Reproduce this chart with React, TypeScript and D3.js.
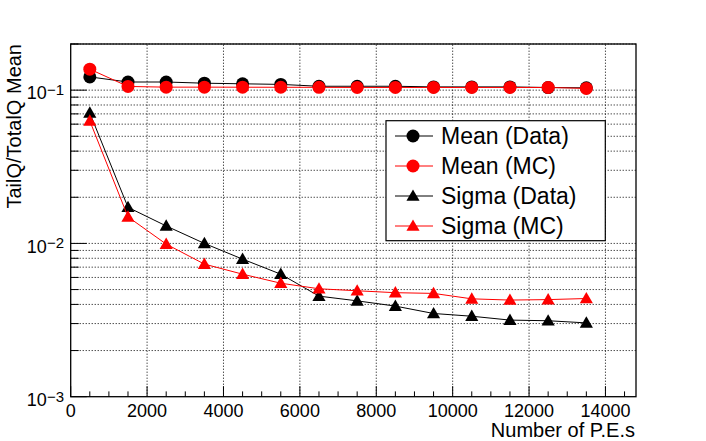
import React, { useEffect, useRef } from 'react';
import * as d3 from 'd3';

// values
const peBins: number[] = [500, 1500, 2500, 3500, 4500, 5500, 6500, 7500, 8500, 9500, 10500, 11500, 12500, 13500];
const meanData: number[] = [0.122, 0.113, 0.113, 0.111, 0.110, 0.109, 0.106, 0.106, 0.106, 0.105, 0.105, 0.105, 0.104, 0.1035];
const meanMC: number[] = [0.137, 0.1057, 0.1046, 0.1046, 0.1045, 0.1044, 0.1043, 0.1041, 0.1041, 0.1041, 0.1041, 0.1041, 0.1041, 0.1026];
const sigmaData: number[] = [0.071, 0.0172, 0.013, 0.01, 0.0079, 0.0063, 0.00453, 0.00422, 0.0039, 0.00349, 0.00335, 0.00316, 0.00313, 0.00303];
const sigmaMC: number[] = [0.063, 0.0149, 0.0099, 0.00733, 0.0063, 0.0055, 0.00506, 0.00491, 0.00477, 0.00472, 0.00435, 0.00427, 0.0043, 0.00437];

const xMajorTicks: number[] = [0, 2000, 4000, 6000, 8000, 10000, 12000, 14000];
const yDecades: number[] = [-3, -2, -1];

const seriesList = [
  { name: 'Mean (Data)', values: meanData, color: '#000000', shape: 'circle' },
  { name: 'Mean (MC)', values: meanMC, color: '#ff0000', shape: 'circle' },
  { name: 'Sigma (Data)', values: sigmaData, color: '#000000', shape: 'triangle' },
  { name: 'Sigma (MC)', values: sigmaMC, color: '#ff0000', shape: 'triangle' },
];

const FONT = "'Liberation Sans', Arial, Helvetica, sans-serif";

const App: React.FC = () => {
  const svgRef = useRef<SVGSVGElement | null>(null);

  useEffect(() => {
    const width = 706;
    const height = 441;
    const margin = { top: 44, right: 70, bottom: 44.3, left: 70.7 };

    const svg = d3.select(svgRef.current)
      .attr('width', width)
      .attr('height', height);
    svg.selectAll('*').remove();

    const xScale = d3.scaleLinear()
      .domain([0, 14800])
      .range([margin.left, width - margin.right]);

    const yScale = d3.scaleLog()
      .domain([1e-3, 0.2])
      .range([height - margin.bottom, margin.top]);

    const x0 = margin.left;
    const x1 = width - margin.right;
    const y0 = height - margin.bottom;
    const y1 = margin.top;

    svg.append('rect')
      .attr('width', width).attr('height', height).attr('fill', '#fff');

    // log ticks: 1..9 per decade
    const yTicks: { v: number; major: boolean }[] = [];
    yDecades.forEach(d => {
      for (let k = 1; k <= 9; k++) {
        const v = k * Math.pow(10, d);
        if (v <= 0.2) yTicks.push({ v, major: k === 1 });
      }
    });

    const xMinor: number[] = d3.range(0, 14800, 500);

    // grid
    const grid = svg.append('g')
      .attr('stroke', '#000')
      .attr('stroke-width', 1)
      .attr('stroke-dasharray', '1,2');
    yTicks.filter(t => t.v > 1e-3).forEach(t => {
      grid.append('line')
        .attr('x1', x0).attr('x2', x1)
        .attr('y1', yScale(t.v)).attr('y2', yScale(t.v));
    });
    xMajorTicks.filter(v => v > 0).forEach(v => {
      grid.append('line')
        .attr('x1', xScale(v)).attr('x2', xScale(v))
        .attr('y1', y0).attr('y2', y1);
    });

    // ticks
    const ticks = svg.append('g').attr('stroke', '#000').attr('stroke-width', 1);
    yTicks.forEach(t => {
      ticks.append('line')
        .attr('x1', x0).attr('x2', x0 + (t.major ? 16 : 8))
        .attr('y1', yScale(t.v)).attr('y2', yScale(t.v));
    });
    xMinor.forEach(v => {
      const major = v % 2000 === 0;
      ticks.append('line')
        .attr('x1', xScale(v)).attr('x2', xScale(v))
        .attr('y1', y0).attr('y2', y0 - (major ? 10.5 : 5.3));
    });

    // frame
    svg.append('rect')
      .attr('x', x0).attr('y', y1)
      .attr('width', x1 - x0).attr('height', y0 - y1)
      .attr('fill', 'none').attr('stroke', '#000').attr('stroke-width', 1.3);

    // x labels
    svg.append('g')
      .selectAll('text')
      .data(xMajorTicks)
      .enter()
      .append('text')
      .attr('x', d => xScale(d))
      .attr('y', 416.5)
      .attr('text-anchor', 'middle')
      .attr('font-family', FONT)
      .attr('font-size', 18)
      .text(d => String(d));

    // y labels 10^n
    yDecades.forEach(d => {
      const t = svg.append('text')
        .attr('x', 64)
        .attr('y', yScale(Math.pow(10, d)) + 9.3)
        .attr('text-anchor', 'end')
        .attr('font-family', FONT)
        .attr('font-size', 18);
      t.append('tspan').text('10');
      t.append('tspan').attr('font-size', 15).attr('dy', -4.5).text('\u2212' + Math.abs(d));
    });

    // axis titles
    svg.append('text')
      .attr('x', 635).attr('y', 437)
      .attr('text-anchor', 'end')
      .attr('font-family', FONT)
      .attr('font-size', 20)
      .text('Number of P.E.s');

    svg.append('text')
      .attr('transform', `translate(21, ${y1}) rotate(-90)`)
      .attr('text-anchor', 'end')
      .attr('font-family', FONT)
      .attr('font-size', 20)
      .text('TailQ/TotalQ Mean');

    const triangle = d3.symbol().type(d3.symbolTriangle).size(75);

    const drawMarker = (g: d3.Selection<SVGGElement, unknown, null, undefined>, shape: string, cx: number, cy: number, color: string) => {
      if (shape === 'circle') {
        g.append('circle').attr('cx', cx).attr('cy', cy).attr('r', 6.5).attr('fill', color);
      } else {
        g.append('path').attr('d', triangle() || '')
          .attr('transform', `translate(${cx}, ${cy + 1})`)
          .attr('fill', color);
      }
    };

    const line = d3.line<number>()
      .x((_, i) => xScale(peBins[i]))
      .y(d => yScale(d));

    seriesList.forEach(s => {
      const g = svg.append('g') as d3.Selection<SVGGElement, unknown, null, undefined>;
      g.append('path')
        .attr('d', line(s.values) || '')
        .attr('fill', 'none')
        .attr('stroke', s.color)
        .attr('stroke-width', 1);
      s.values.forEach((v, i) => drawMarker(g, s.shape, xScale(peBins[i]), yScale(v), s.color));
    });

    // legend
    const lg = svg.append('g') as d3.Selection<SVGGElement, unknown, null, undefined>;
    lg.append('rect')
      .attr('x', 386).attr('y', 120.7)
      .attr('width', 219.3).attr('height', 120)
      .attr('fill', '#fff').attr('stroke', '#000').attr('stroke-width', 1.2);
    seriesList.forEach((s, i) => {
      const cy = 136 + i * 30;
      lg.append('line')
        .attr('x1', 395).attr('x2', 433)
        .attr('y1', cy).attr('y2', cy)
        .attr('stroke', s.color).attr('stroke-width', 1);
      drawMarker(lg, s.shape, 413, cy, s.color);
      lg.append('text')
        .attr('x', 441).attr('y', cy + 8.3)
        .attr('font-family', FONT)
        .attr('font-size', 23)
        .text(s.name);
    });
  }, []);

  return (
    <svg ref={svgRef} style={{ position: 'absolute', left: 0, top: 0, display: 'block' }}></svg>
  );
};

export default App;
